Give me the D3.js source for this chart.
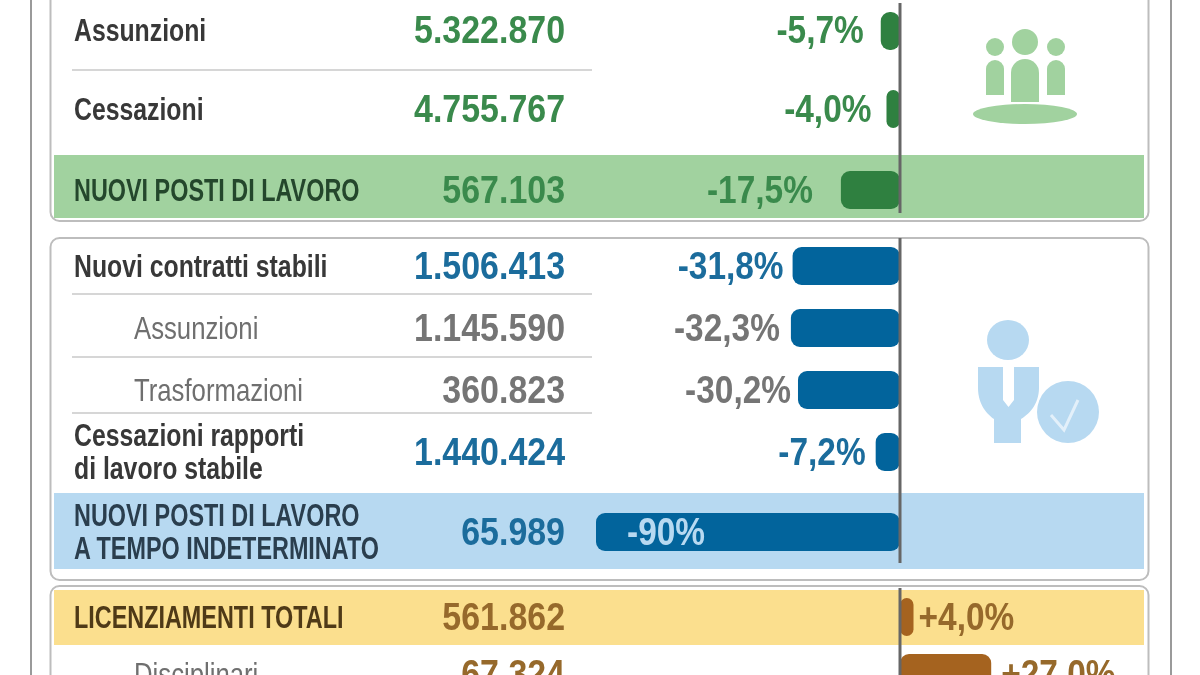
<!DOCTYPE html>
<html><head><meta charset="utf-8">
<style>html,body{margin:0;padding:0;background:#fff}svg{display:block;filter:blur(.5px)}text{font-family:"Liberation Sans",sans-serif}</style>
<script src="https://cdn.jsdelivr.net/npm/d3@7/dist/d3.min.js"></script></head><body>
<svg id="c" width="1200" height="675"></svg>
<script>
// DATA
const labels=[["Assunzioni"],["Cessazioni"],["NUOVI POSTI DI LAVORO"],["Nuovi contratti stabili"],["Assunzioni"],["Trasformazioni"],["Cessazioni rapporti","di lavoro stabile"],["NUOVI POSTI DI LAVORO","A TEMPO INDETERMINATO"],["LICENZIAMENTI TOTALI"],["Disciplinari"]];
const values=["5.322.870","4.755.767","567.103","1.506.413","1.145.590","360.823","1.440.424","65.989","561.862","67.324"];
const changes=[-5.7,-4.0,-17.5,-31.8,-32.3,-30.2,-7.2,-90,4.0,27.0];
const changeLabels=["-5,7%","-4,0%","-17,5%","-31,8%","-32,3%","-30,2%","-7,2%","-90%","+4,0%","+27,0%"];
const groups=["green","green","green","blue","blue","blue","blue","blue","brown","brown"];
const kinds=["main","main","total","main","sub","sub","main","total","total","sub"];

// LAYOUT AND STYLE
const rowIds=d3.range(labels.length);
const y=d3.scaleOrdinal(rowIds,[30,109,190,266,328,390,452,532,617,674]);
const x=d3.scaleLinear([0,90],[900,1204]);
const barH=38;
const labelGap=[17,15,28,9,11,7,10,0,5,10];
const ink={green:{bar:"#2f8040",val:"#3a8a4c",total:"#24472c",lab:"#383838"},blue:{bar:"#02649c",val:"#1b6c9c",total:"#2a3e4e",lab:"#383838"},brown:{bar:"#a5631f",val:"#96692b",total:"#4f3a17",lab:"#383838"}};
const squeeze={main:.8,total:.755,sub:.83};
const svg=d3.select("#c");

// frame and panels
svg.selectAll("line.frame").data([31,1171]).join("line").attr("class","frame")
  .attr("x1",d=>d).attr("x2",d=>d).attr("y1",0).attr("y2",675).attr("stroke","#9a9a9a").attr("stroke-width",2);
const panels=[{top:-30,bottom:221},{top:238,bottom:580},{top:586,bottom:720}];
svg.selectAll("rect.panel").data(panels).join("rect").attr("class","panel")
  .attr("x",50.5).attr("width",1098).attr("y",d=>d.top).attr("height",d=>d.bottom-d.top)
  .attr("rx",9).attr("fill","#fff").attr("stroke","#bdbdbd").attr("stroke-width",2);
const bands=[{top:155,bottom:218,c:"#a1d29f"},{top:493,bottom:569,c:"#b7d9f1"},{top:590,bottom:645,c:"#fbdf8e"}];
svg.selectAll("rect.band").data(bands).join("rect").attr("class","band")
  .attr("x",54).attr("width",1090).attr("y",d=>d.top).attr("height",d=>d.bottom-d.top).attr("fill",d=>d.c);
svg.selectAll("line.sep").data([70,294,357,413]).join("line").attr("class","sep")
  .attr("x1",72).attr("x2",592).attr("y1",d=>d).attr("y2",d=>d).attr("stroke","#c8c8c8").attr("stroke-width",1.6);

// bars
const barW=i=>Math.abs(x(changes[i])-x(0));
svg.selectAll("rect.bar").data(rowIds).join("rect").attr("class","bar")
  .attr("x",i=>x(Math.min(0,changes[i]))).attr("width",barW)
  .attr("y",i=>y(i)-barH/2+(i===0?1:i===9?-1:0)).attr("height",barH).attr("rx",i=>Math.min(9,barW(i)/2))
  .attr("fill",i=>ink[groups[i]].bar);

// axis
svg.selectAll("line.zero").data([[3,213],[238,563],[588,675]]).join("line").attr("class","zero")
  .attr("x1",x(0)).attr("x2",x(0)).attr("y1",d=>d[0]).attr("y2",d=>d[1]).attr("stroke","#666").attr("stroke-width",3);

// labels
const labX=i=>kinds[i]==="sub"?134:74;
const lab=svg.selectAll("g.lab").data(rowIds).join("g").attr("class","lab");
lab.selectAll("text").data(i=>labels[i].map((t,k)=>({t,k,n:labels[i].length,i}))).join("text")
  .attr("transform",d=>`translate(${labX(d.i)},${y(d.i)+10.5+(d.k-(d.n-1)/2)*33}) scale(${squeeze[kinds[d.i]]},1)`)
  .attr("fill",d=>kinds[d.i]==="total"?ink[groups[d.i]].total:kinds[d.i]==="sub"?"#6f6f6f":ink[groups[d.i]].lab)
  .attr("font-weight",d=>kinds[d.i]==="sub"?400:700)
  .attr("font-size",31)
  .text(d=>d.t);

// values
svg.selectAll("text.val").data(rowIds).join("text").attr("class","val")
  .attr("transform",i=>`translate(565,${y(i)+13}) scale(.87,1)`).attr("text-anchor","end")
  .attr("font-size",39).attr("font-weight",700)
  .attr("fill",i=>kinds[i]==="sub"&&groups[i]==="blue"?"#757575":ink[groups[i]].val)
  .text(i=>values[i]);

// change labels
const pctX=i=>changes[i]===-90?x(-90)+31:changes[i]<0?x(changes[i])-labelGap[i]:x(changes[i])+labelGap[i];
svg.selectAll("text.pct").data(rowIds).join("text").attr("class","pct")
  .attr("transform",i=>`translate(${pctX(i)},${y(i)+13}) scale(.88,1)`)
  .attr("font-size",38).attr("font-weight",700)
  .attr("text-anchor",i=>changes[i]===-90||changes[i]>0?"start":"end")
  .attr("fill",i=>changes[i]===-90?"#b7d9f1":kinds[i]==="sub"&&groups[i]==="blue"?"#757575":ink[groups[i]].val)
  .text(i=>changeLabels[i]);

// icons
const g=svg.append("g").attr("fill","#a1d29f");
g.append("circle").attr("cx",1025).attr("cy",42).attr("r",13);
[995,1056].forEach(c=>{g.append("circle").attr("cx",c).attr("cy",47).attr("r",9);
 g.append("path").attr("d",`M${c-9} 95V69a9 9 0 0 1 18 0V95Z`);});
g.append("path").attr("d","M1011 102V73a14 14 0 0 1 28 0V102Z");
g.append("ellipse").attr("cx",1025).attr("cy",114).attr("rx",52).attr("ry",10);
const b=svg.append("g").attr("fill","#b7d9f1");
b.append("ellipse").attr("cx",1008).attr("cy",340).attr("rx",21).attr("ry",20);
b.append("path").attr("d","M978 367H1003V400L1008.5 407L1014 400V367H1039V388C1039 405 1028 415 1021 419V443H994V419C988 415 978 405 978 388Z");
b.append("ellipse").attr("cx",1068).attr("cy",412).attr("rx",31).attr("ry",31);
b.append("path").attr("d","M1051 415L1064 430L1078 400").attr("fill","none").attr("stroke","#e3f0fa").attr("stroke-width",3);
</script></body></html>
